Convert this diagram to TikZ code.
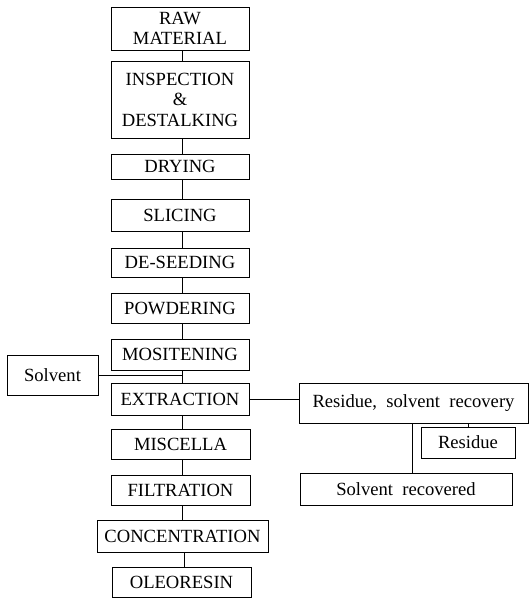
\documentclass[tikz,border=0pt]{standalone}
\usepackage{fontspec}
\setmainfont{Liberation Serif}
\begin{document}
\begin{tikzpicture}[x=1pt,y=-1pt,
  box/.style={draw, line width=1pt, inner sep=0pt, align=center,
    font=\fontsize{18.6}{20.5}\selectfont},
  link/.style={draw, line width=1pt}]
\useasboundingbox (0,0) rectangle (529,598);
\node[box, minimum width=138, minimum height=43] (raw) at (180,28.5) {RAW\\MATERIAL};
\node[box, minimum width=138, minimum height=77] (insp) at (180,99.5) {INSPECTION\\\&\\DESTALKING};
\node[box, minimum width=138, minimum height=25] (dry) at (180,166.5) {DRYING};
\node[box, minimum width=138, minimum height=32] (slic) at (180,215.5) {SLICING};
\node[box, minimum width=138, minimum height=29] (seed) at (180,262.5) {DE-SEEDING};
\node[box, minimum width=138, minimum height=30] (powd) at (180,308) {POWDERING};
\node[box, minimum width=138, minimum height=31] (most) at (180,354.5) {MOSITENING};
\node[box, minimum width=91, minimum height=40] (solv) at (52.5,375) {Solvent};
\node[box, minimum width=138, minimum height=32] (extr) at (180,399) {EXTRACTION};
\node[box, minimum width=229, minimum height=40] (rec) at (413.5,403) {Residue,\ \ solvent\ \ recovery};
\node[box, minimum width=94, minimum height=31] (resi) at (468,442.5) {Residue};
\node[box, minimum width=212, minimum height=32] (srec) at (406,489) {Solvent\ \ recovered};
\node[box, minimum width=139, minimum height=30] (misc) at (180.5,444) {MISCELLA};
\node[box, minimum width=139, minimum height=30] (filt) at (180.5,490) {FILTRATION};
\node[box, minimum width=171, minimum height=32] (conc) at (182.5,536) {CONCENTRATION};
\node[box, minimum width=139, minimum height=30] (oleo) at (181.5,582) {OLEORESIN};
\foreach \a/\b in {raw/insp,insp/dry,dry/slic,slic/seed,seed/powd,powd/most,most/extr,extr/misc,misc/filt,filt/conc,conc/oleo}
  \path[link] ([xshift=2pt]\a.south) -- ([xshift=2pt]\a.south |- \b.north);
\coordinate (sj) at ([xshift=2pt]most.south |- solv.east);
\path[link] (solv.east) -- (sj);
\path[link] (extr.east) -- (extr.east -| rec.west);
\path[link] (resi.north |- rec.south) -- (resi.north);
\path[link] ([xshift=-1.5pt]rec.south) -- ([xshift=-1.5pt]rec.south |- srec.north);
\end{tikzpicture}
\end{document}
